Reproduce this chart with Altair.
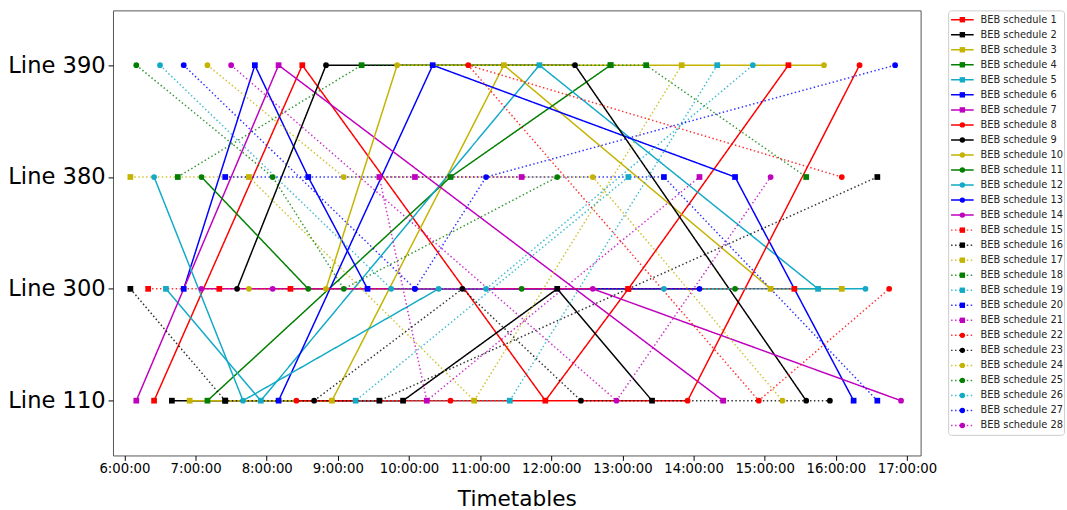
import altair as alt
import pandas as pd

# ---------------- data ----------------
LINES = ["Line 390", "Line 380", "Line 300", "Line 110"]
TICK_HOURS = [6, 7, 8, 9, 10, 11, 12, 13, 14, 15, 16, 17]
BASE_COLORS = ["#ff0000", "#000000", "#c4b300", "#007f00", "#12aac6", "#0000ff", "#bf00bf"]

# each schedule: list of paths, each path a list of (time, line)
S1 = [[("6:25", 110), ("8:30", 390), ("11:55", 110), ("13:05", 300), ("15:20", 390)]]
S2 = [[("6:40", 110), ("7:25", 110), ("9:55", 110), ("12:05", 300), ("13:25", 110)]]
S3 = [[("6:55", 110), ("8:55", 110), ("11:20", 390), ("15:05", 300), ("16:05", 300)]]
S4 = [[("7:10", 110), ("10:35", 380), ("12:50", 390)]]
S5 = [[("6:35", 300), ("7:55", 110), ("11:50", 390), ("15:45", 300)]]
S6 = [[("6:50", 300), ("7:50", 390), ("8:35", 380), ("9:25", 300)],
      [("8:10", 110), ("10:20", 390), ("14:35", 380), ("16:15", 110)]]
S7 = [[("6:10", 110), ("8:10", 390), ("14:25", 110)]]
S8 = [[("8:25", 110), ("10:35", 110), ("13:55", 110), ("16:20", 390)]]
S9 = [[("7:35", 300), ("8:50", 390), ("12:20", 390), ("15:35", 110)]]
S10 = [[("7:45", 300), ("8:50", 300), ("9:50", 390), ("15:50", 390)]]
S11 = [[("7:05", 380), ("8:35", 300), ("11:35", 300), ("14:35", 300)]]
S12 = [[("6:25", 380), ("7:40", 110), ("10:25", 300), ("13:35", 300), ("16:25", 300)]]
S13 = [[("10:05", 300), ("14:05", 300)]]
S14 = [[("7:05", 300), ("8:05", 300), ("12:35", 300), ("16:55", 110)]]
S15 = [[("6:20", 300), ("7:20", 300), ("8:20", 300), ("13:05", 300), ("15:25", 300)]]
S16 = [[("6:05", 300), ("7:25", 110), ("9:35", 110), ("16:35", 380)]]
S17 = [[("6:05", 380), ("7:45", 380), ("10:55", 110), ("13:50", 390)]]
S18 = [[("6:45", 380), ("9:20", 390), ("12:50", 390), ("13:20", 390), ("15:35", 380)]]
S19 = [[("13:05", 380), ("9:15", 110), ("11:25", 110), ("14:20", 390)]]
S20 = [[("7:25", 380), ("13:35", 380), ("16:35", 110)]]
S21 = [[("11:35", 380), ("10:05", 380), ("9:35", 380), ("10:15", 110), ("14:05", 380)]]
S22 = [[("16:05", 380), ("10:50", 390), ("14:55", 110), ("16:45", 300)]]
S23 = [[("8:40", 110), ("10:45", 300), ("12:25", 110), ("15:55", 110)]]
S24 = [[("7:10", 390), ("9:05", 380), ("12:35", 380), ("15:15", 110)]]
S25 = [[("6:10", 390), ("8:05", 380), ("9:05", 300), ("12:05", 380)]]
S26 = [[("6:30", 390), ("9:45", 300), ("11:05", 300), ("14:50", 390)]]
S27 = [[("6:50", 390), ("10:05", 300), ("11:05", 380), ("16:50", 390)]]
S28 = [[("7:30", 390), ("12:55", 110), ("15:05", 380)]]

SCHEDULES = [S1, S2, S3, S4, S5, S6, S7, S8, S9, S10, S11, S12, S13, S14,
             S15, S16, S17, S18, S19, S20, S21, S22, S23, S24, S25, S26, S27, S28]

# ---------------- build tables ----------------
NAMES = [f"BEB schedule {k}" for k in range(1, 29)]
COLOR_LIST = [BASE_COLORS[i % 7] for i in range(28)]
STYLE = ["solid" if i < 14 else "dotted" for i in range(28)]
MARK = ["square" if (i // 7) % 2 == 0 else "circle" for i in range(28)]


def ts(s):
    h, m = s.split(":")
    return f"2020-01-01T{int(h):02d}:{m}:00"


rows = []
for i, sched in enumerate(SCHEDULES):
    for p, path in enumerate(sched):
        for j, (tm, ln) in enumerate(path):
            rows.append({"sched": NAMES[i], "part": f"{i}-{p}", "seq": j,
                         "time": ts(tm), "line": f"Line {ln}",
                         "sty": STYLE[i], "mk": MARK[i]})
df = pd.DataFrame(rows)
leg = pd.DataFrame({"label": NAMES, "sty": STYLE, "mk": MARK})

FONT = "DejaVu Sans"


def dt(h, m=0, s=0):
    return alt.DateTime(year=2020, month=1, date=1, hours=h, minutes=m, seconds=s)


color = alt.Color("sched:N", scale=alt.Scale(domain=NAMES, range=COLOR_LIST), legend=None)
dash = alt.StrokeDash("sty:N", scale=alt.Scale(domain=["solid", "dotted"], range=[[1, 0], [1.5, 2.5]]), legend=None)
opac = alt.Opacity("sty:N", scale=alt.Scale(domain=["solid", "dotted"], range=[1.0, 0.8]), legend=None)
shape = alt.Shape("mk:N", scale=alt.Scale(domain=["square", "circle"], range=["square", "circle"]), legend=None)

x = alt.X("time:T",
          scale=alt.Scale(domain=[dt(5, 50, 20), dt(17, 11, 30)]),
          axis=alt.Axis(values=[dt(h) for h in TICK_HOURS], format="%-H:%M:%S",
                        title="Timetables", titleFontSize=22, titleFontWeight="normal",
                        titleColor="black", titlePadding=14, labelFontSize=13.5,
                        labelColor="black", labelPadding=1, labelFlush=False,
                        labelOverlap=False, tickSize=5, tickColor="black",
                        domain=False, grid=False))
y = alt.Y("line:N", sort=LINES,
          scale=alt.Scale(type="point", padding=0.49),
          axis=alt.Axis(title=None, labelFontSize=23, labelColor="black", labelPadding=3,
                        tickSize=5, tickColor="black", domain=False, grid=False))

base = alt.Chart(df)
lines = base.mark_line(strokeWidth=1.5).encode(
    x=x, y=y, color=color, strokeDash=dash, opacity=opac,
    detail="part:N", order="seq:Q")
points = base.mark_point(filled=True, size=34, opacity=1).encode(
    x=x, y=y, color=color, shape=shape)
main = alt.layer(lines, points).properties(width=822, height=453)

lcolor = alt.Color("label:N", scale=alt.Scale(domain=NAMES, range=COLOR_LIST), legend=None)
ly = alt.Y("label:N", sort=NAMES, scale=alt.Scale(type="point", padding=0.62), axis=None)
lbase = alt.Chart(leg)
lrule = lbase.mark_rule(strokeWidth=1.5).encode(
    x=alt.value(3), x2=alt.value(26), y=ly, color=lcolor, strokeDash=dash, opacity=opac)
lpt = lbase.mark_point(filled=True, size=30, opacity=1).encode(
    x=alt.value(14.5), y=ly, color=lcolor, shape=shape)
ltxt = lbase.mark_text(align="left", baseline="middle", fontSize=10, font=FONT, color="#222222").encode(
    x=alt.value(33), y=ly, text="label:N")
legend = alt.layer(lrule, lpt, ltxt).properties(
    width=118, height=432,
    view=alt.ViewBackground(stroke="#cccccc", strokeWidth=1, cornerRadius=3))

chart = alt.hconcat(main, legend, spacing=10).resolve_scale(
    x="independent", y="independent", color="independent",
    strokeDash="independent", opacity="independent", shape="independent"
).properties(
    padding={"left": 7, "top": 5, "right": 2, "bottom": 0}
).configure(font=FONT).configure_view(stroke="#555555", strokeWidth=1)

chart.save("out.html", embed_options={"renderer": "svg", "actions": False})
